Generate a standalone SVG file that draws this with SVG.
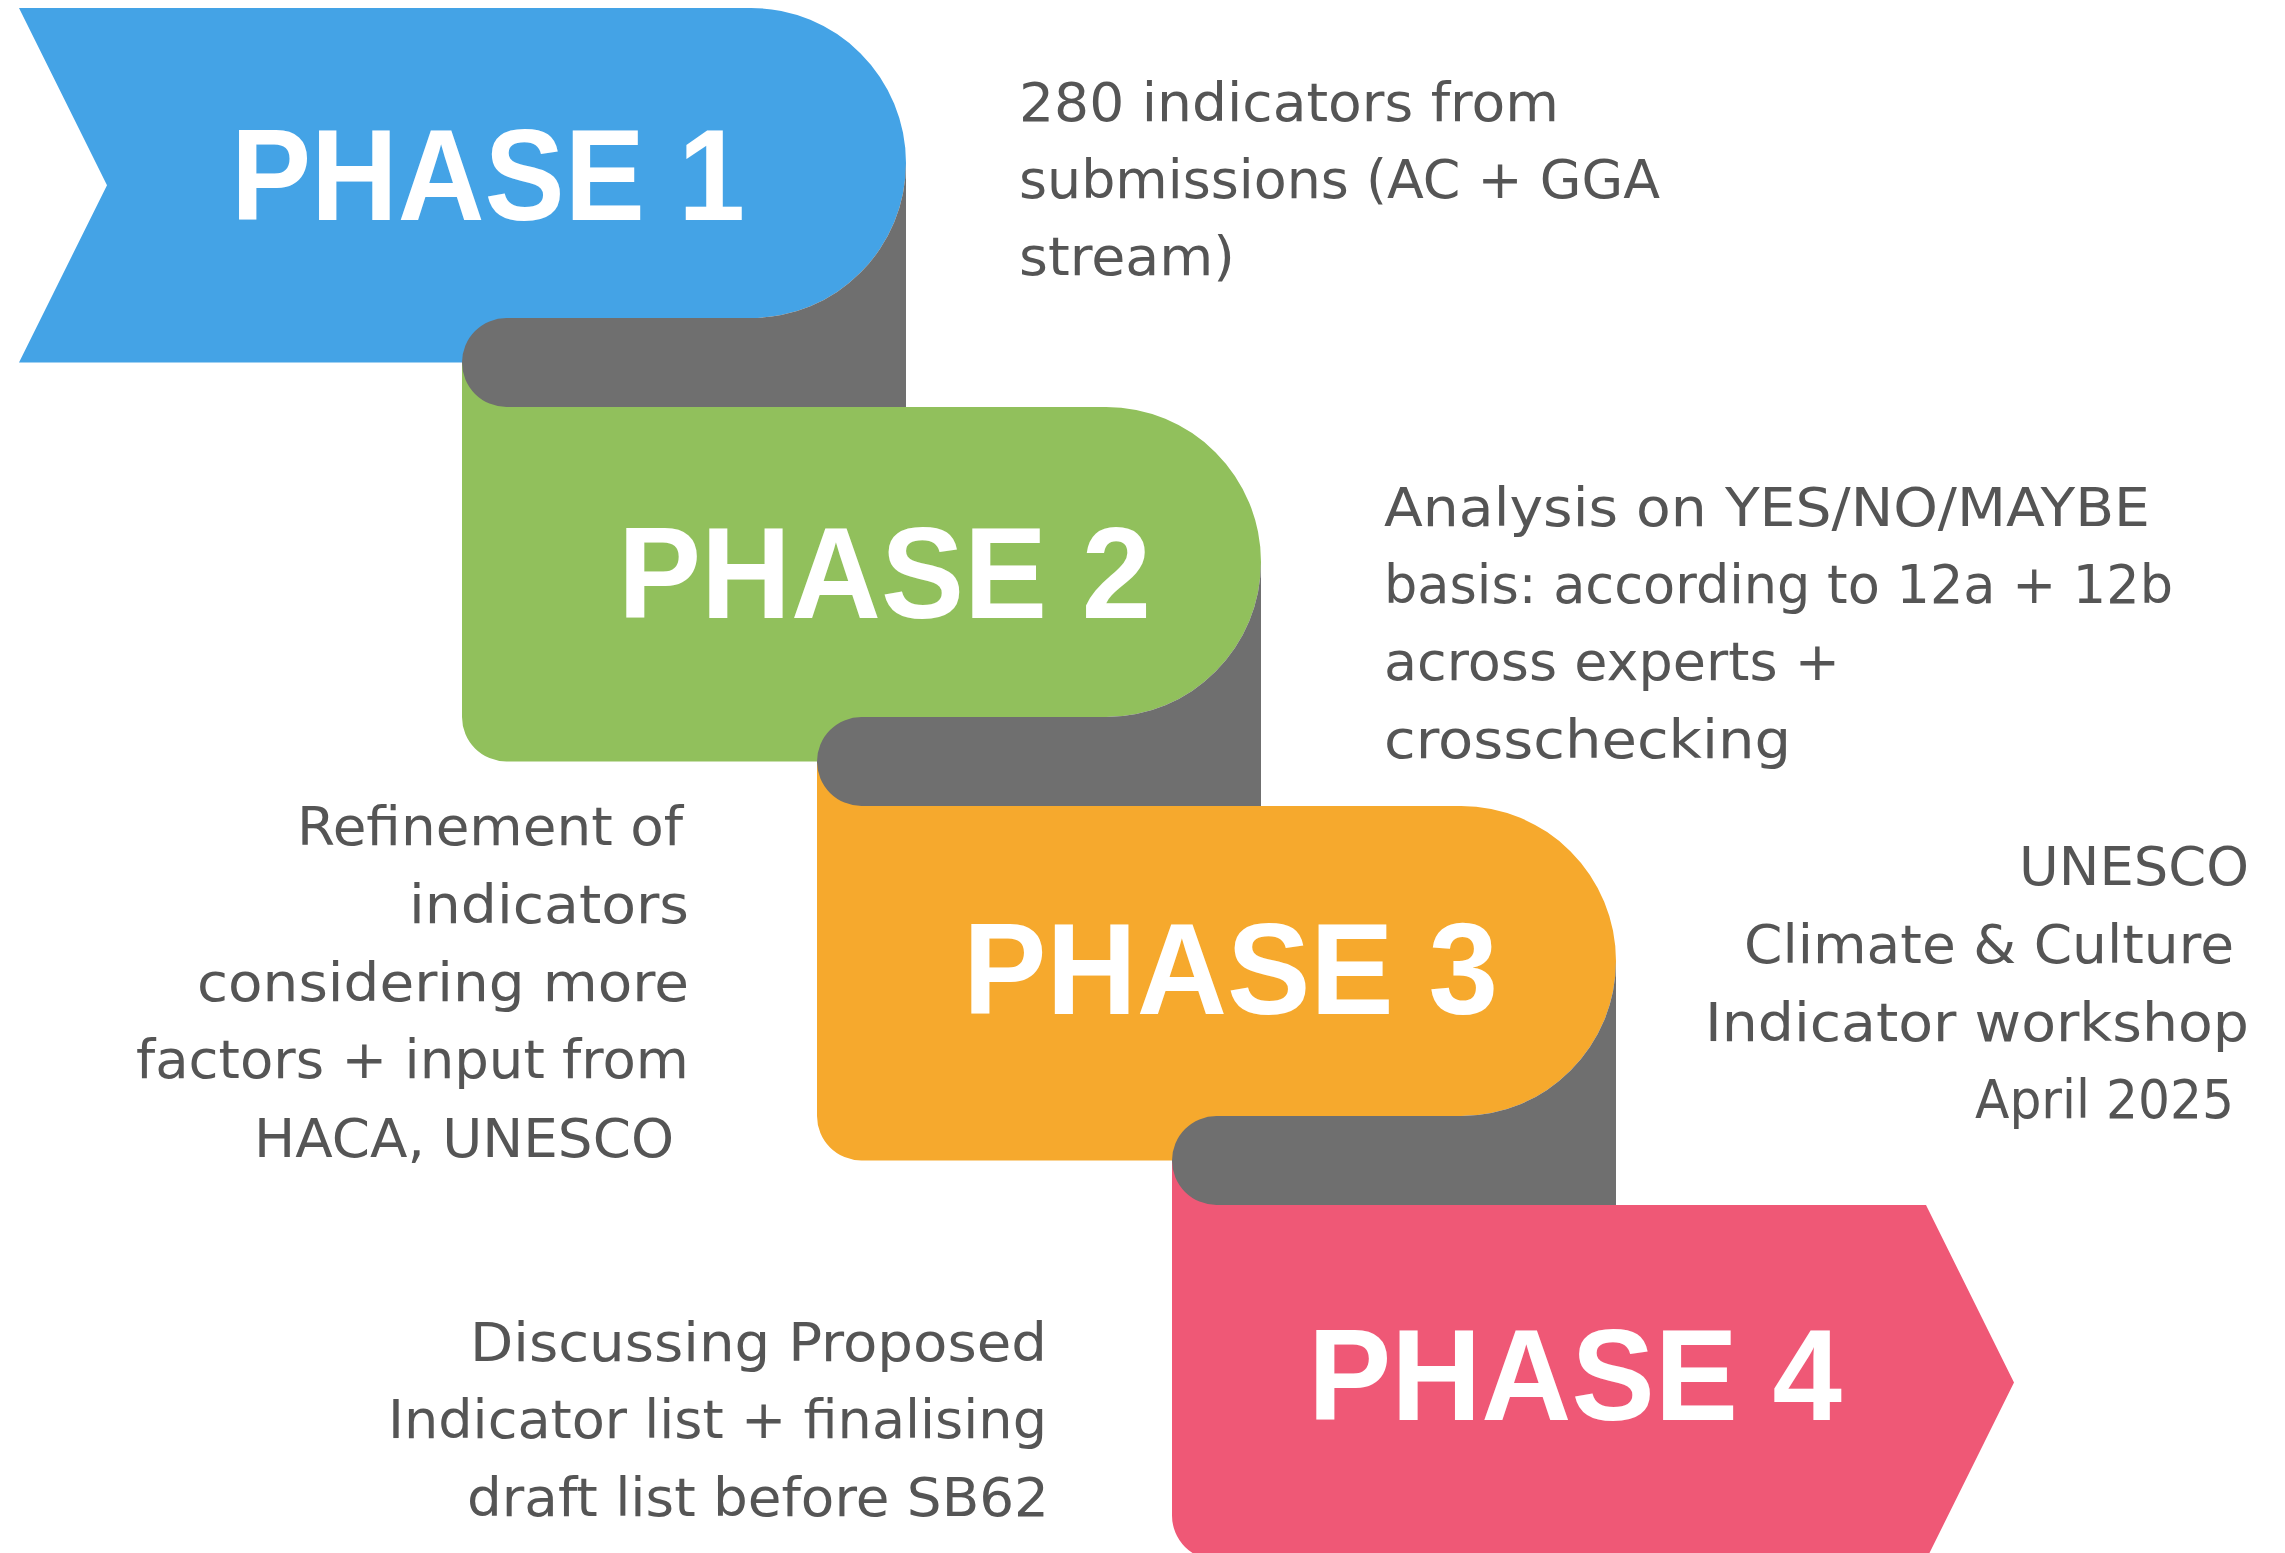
<svg xmlns="http://www.w3.org/2000/svg" width="2285" height="1553" viewBox="0 0 2285 1553">
  <style>
    .label { font-family: "Liberation Sans", Arial, sans-serif; font-weight: 700; font-size: 130px; fill: #ffffff; }
    .desc { font-family: "DejaVu Sans", "Liberation Sans", sans-serif; font-size: 53px; fill: #555555; }
    .fold { fill: #6f6f6f; }
  </style>
  <rect x="0" y="0" width="2285" height="1553" fill="#ffffff"/>

  <g id="phase1">
    <path d="M19,8 L751,8 A155,155 0 0 1 751,318 L506.5,318 L506.5,362.5 L19,362.5 L107,185.25 Z" fill="#44a3e6"/>
  </g>
  <g id="phase2">
    <path d="M462,362.5 L906,362.5 L906,407 L1106,407 A155,155 0 0 1 1106,717 L861.5,717 L861.5,761.5 L506.5,761.5 A44.5,44.5 0 0 1 462,717 Z" fill="#91c05c"/>
  </g>
  <g id="phase3">
    <path d="M817,761.5 L1261,761.5 L1261,806 L1461,806 A155,155 0 0 1 1461,1116 L1216.5,1116 L1216.5,1160.5 L861.5,1160.5 A44.5,44.5 0 0 1 817,1116 Z" fill="#f6a92d"/>
  </g>
  <g id="phase4">
    <path d="M1172,1160.5 L1616,1160.5 L1616,1205 L1926,1205 L2014,1382.5 L1926,1560 L1216.5,1560 A44.5,44.5 0 0 1 1172,1515.5 Z" fill="#ef5876"/>
  </g>

  <g id="connectors">
    <path class="fold" d="M906,163 L906,407 L506.5,407 A44.5,44.5 0 0 1 506.5,318 L751,318 A155,155 0 0 0 906,163 Z"/>
    <path class="fold" d="M1261,562 L1261,806 L861.5,806 A44.5,44.5 0 0 1 861.5,717 L1106,717 A155,155 0 0 0 1261,562 Z"/>
    <path class="fold" d="M1616,961 L1616,1205 L1216.5,1205 A44.5,44.5 0 0 1 1216.5,1116 L1461,1116 A155,155 0 0 0 1616,961 Z"/>
  </g>

  <g id="labels">
    <text class="label" x="231" y="220" textLength="514" lengthAdjust="spacingAndGlyphs">PHASE 1</text>
    <text class="label" x="618" y="618" textLength="533" lengthAdjust="spacingAndGlyphs">PHASE 2</text>
    <text class="label" x="963" y="1014" textLength="535" lengthAdjust="spacingAndGlyphs">PHASE 3</text>
    <text class="label" x="1308" y="1420" textLength="534" lengthAdjust="spacingAndGlyphs">PHASE 4</text>
  </g>

  <g id="desc1">
    <text class="desc" x="1019" y="121" textLength="540" lengthAdjust="spacingAndGlyphs">280 indicators from</text>
    <text class="desc" x="1019" y="198" textLength="641" lengthAdjust="spacingAndGlyphs">submissions (AC + GGA</text>
    <text class="desc" x="1019" y="275" textLength="216" lengthAdjust="spacingAndGlyphs">stream)</text>
  </g>
  <g id="desc2">
    <text class="desc" x="1384" y="526" textLength="766" lengthAdjust="spacingAndGlyphs">Analysis on YES/NO/MAYBE</text>
    <text class="desc" x="1384" y="603" textLength="789" lengthAdjust="spacingAndGlyphs">basis: according to 12a + 12b</text>
    <text class="desc" x="1384" y="680" textLength="456" lengthAdjust="spacingAndGlyphs">across experts +</text>
    <text class="desc" x="1384" y="758" textLength="407" lengthAdjust="spacingAndGlyphs">crosschecking</text>
  </g>
  <g id="desc3">
    <text class="desc" x="297" y="845" textLength="386" lengthAdjust="spacingAndGlyphs">Refinement of</text>
    <text class="desc" x="409" y="923" textLength="280" lengthAdjust="spacingAndGlyphs">indicators</text>
    <text class="desc" x="197" y="1001" textLength="492" lengthAdjust="spacingAndGlyphs">considering more</text>
    <text class="desc" x="136" y="1078" textLength="553" lengthAdjust="spacingAndGlyphs">factors + input from</text>
    <text class="desc" x="254" y="1157" textLength="420" lengthAdjust="spacingAndGlyphs">HACA, UNESCO</text>
  </g>
  <g id="desc4">
    <text class="desc" x="2019" y="885" textLength="230" lengthAdjust="spacingAndGlyphs">UNESCO</text>
    <text class="desc" x="1744" y="963" textLength="490" lengthAdjust="spacingAndGlyphs">Climate &amp; Culture</text>
    <text class="desc" x="1705" y="1041" textLength="544" lengthAdjust="spacingAndGlyphs">Indicator workshop</text>
    <text class="desc" x="1975" y="1118" textLength="259" lengthAdjust="spacingAndGlyphs">April 2025</text>
  </g>
  <g id="desc5">
    <text class="desc" x="470" y="1361" textLength="577" lengthAdjust="spacingAndGlyphs">Discussing Proposed</text>
    <text class="desc" x="388" y="1438" textLength="659" lengthAdjust="spacingAndGlyphs">Indicator list + finalising</text>
    <text class="desc" x="467" y="1516" textLength="582" lengthAdjust="spacingAndGlyphs">draft list before SB62</text>
  </g>
</svg>
